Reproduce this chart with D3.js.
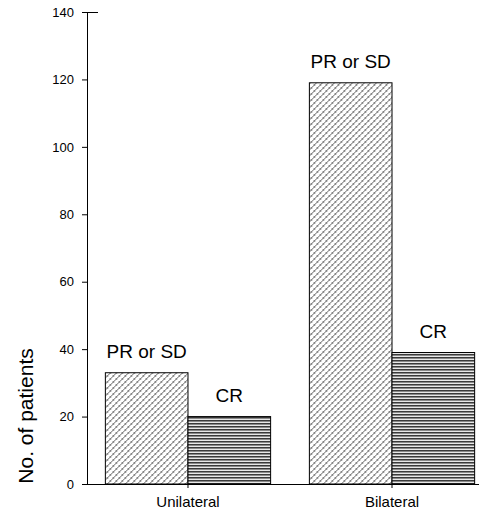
<!DOCTYPE html>
<html>
<head>
<script src="https://d3js.org/d3.v7.min.js"></script>
<style>
  body { margin: 0; background: #fff; }
  svg { display: block; font-family: "Liberation Sans", Arial, sans-serif; }
</style>
</head>
<body>
<svg width="483" height="513"></svg>
<script>
  // data
  let groups = ['Unilateral', 'Bilateral'];
  let responses = ['PR or SD', 'CR'];
  let prValues = [33, 119];
  let crValues = [20, 39];
  let yTicks = [0, 20, 40, 60, 80, 100, 120, 140];

  let svg = d3.select('svg');
  let margin = {top: 12, bottom: 29, left: 87, right: 0};
  let width = 483 - margin.left - margin.right;
  let height = 513 - margin.top - margin.bottom;

  let defs = svg.append('defs');
  // woven diagonal hatch for PR or SD
  let p1 = defs.append('pattern')
      .attr('id', 'weave').attr('patternUnits', 'userSpaceOnUse')
      .attr('width', 6).attr('height', 6);
  p1.append('rect').attr('width', 6).attr('height', 6).attr('fill', '#fff');
  p1.append('path').attr('d', 'M0,6 L6,0 M-1,1 L1,-1 M5,7 L7,5')
      .attr('stroke', '#555').attr('stroke-width', 0.9).attr('fill', 'none');
  p1.append('path').attr('d', 'M1,3 L3,5 M4,0 L6,2')
      .attr('stroke', '#999').attr('stroke-width', 0.8).attr('fill', 'none');
  // horizontal stripes for CR
  let p2 = defs.append('pattern')
      .attr('id', 'stripes').attr('patternUnits', 'userSpaceOnUse')
      .attr('width', 4).attr('height', 3);
  p2.append('rect').attr('width', 4).attr('height', 3).attr('fill', '#e8e8e8');
  p2.append('rect').attr('y', 0).attr('width', 4).attr('height', 1).attr('fill', '#3a3a3a');
  p2.append('rect').attr('y', 1).attr('width', 4).attr('height', 1).attr('fill', '#8a8a8a');

  let g = svg.append('g').attr('transform', `translate(${margin.left},${margin.top})`);

  let x0 = d3.scaleBand().domain(groups).range([0, 406]).paddingInner(0.19).paddingOuter(0.09);
  let x1 = d3.scaleBand().domain(responses).range([0, x0.bandwidth()]);
  let y = d3.scaleLinear().domain([0, 140]).range([height, 0]);

  let rows = groups.map((grp, i) => ({
    group: grp,
    vals: [{key: 'PR or SD', v: prValues[i], fill: 'url(#weave)'},
           {key: 'CR', v: crValues[i], fill: 'url(#stripes)'}]
  }));

  let gg = g.selectAll('.grp').data(rows).join('g')
      .attr('transform', d => `translate(${x0(d.group)},0)`);

  gg.selectAll('rect').data(d => d.vals).join('rect')
      .attr('x', d => x1(d.key))
      .attr('y', d => y(d.v))
      .attr('width', x1.bandwidth())
      .attr('height', d => height - y(d.v))
      .attr('fill', d => d.fill)
      .attr('stroke', '#000').attr('stroke-width', 1);

  gg.selectAll('text').data(d => d.vals).join('text')
      .attr('x', d => x1(d.key) + x1.bandwidth() / 2)
      .attr('y', d => y(d.v) - 15)
      .attr('text-anchor', 'middle')
      .style('font-size', '19px')
      .text(d => d.key);

  // y axis
  let yAxis = g.append('g').call(d3.axisLeft(y).tickValues(yTicks).tickSize(5).tickPadding(8));
  yAxis.select('.domain').attr('d', `M-5,0.5H11M0.5,0.5V${height}`);
  yAxis.selectAll('text').style('font-size', '13px').style('font-family', '"Liberation Sans", Arial, sans-serif');

  // x axis
  let xAxis = g.append('g').attr('transform', `translate(0,${height})`)
      .call(d3.axisBottom(x0).tickSize(4).tickPadding(8).tickSizeOuter(0));
  xAxis.select('.domain').attr('d', `M0,0.5H392`);
  xAxis.selectAll('text').style('font-size', '15px').style('font-family', '"Liberation Sans", Arial, sans-serif');

  svg.append('text')
      .attr('transform', `translate(33,416) rotate(-90)`)
      .attr('text-anchor', 'middle')
      .style('font-size', '21px')
      .text('No. of patients');
</script>
</body>
</html>
